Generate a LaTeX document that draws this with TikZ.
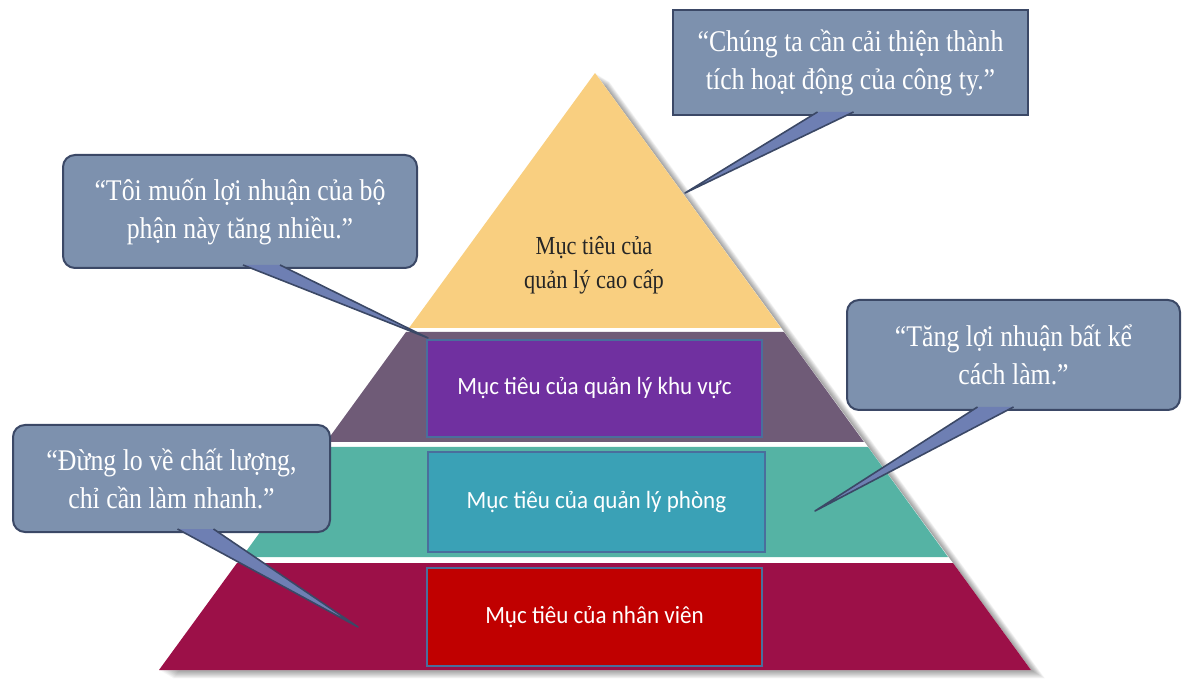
\documentclass[tikz,border=0pt]{standalone}
\usepackage{fontspec}
\setmainfont{Liberation Serif}
\newfontfamily\quotefont[FakeStretch=0.86]{Liberation Serif}
\newfontfamily\boxfont[FakeStretch=0.93]{Carlito}
\definecolor{topyellow}{HTML}{F9CF80}
\definecolor{areamauve}{HTML}{6F5B77}
\definecolor{areapurple}{HTML}{7030A0}
\definecolor{deptteal}{HTML}{55B3A4}
\definecolor{deptbox}{HTML}{3AA1B6}
\definecolor{staffred}{HTML}{9C1048}
\definecolor{staffbox}{HTML}{C00000}
\definecolor{quotefill}{HTML}{7D91AE}
\definecolor{quoteedge}{HTML}{3B4866}
\definecolor{tipfill}{HTML}{6E7FB3}
\definecolor{boxedge}{HTML}{4A6E9C}

\begin{document}
\begin{tikzpicture}[x=0.5pt, y=-0.5pt,
  quote/.style={draw=quoteedge, fill=quotefill, line width=1pt, text=white, align=center, inner sep=0pt, outer sep=0pt, font=\quotefont\fontsize{15}{19}\selectfont},
  roundquote/.style={quote, rounded corners=6pt},
  pointer/.style={fill=tipfill, draw=quoteedge, line width=0.8pt, line join=round},
  goal/.style={draw=boxedge, line width=0.6pt, text=white, inner sep=0pt, font=\boxfont\fontsize{12.4}{14}\selectfont}]
\useasboundingbox (0,0) rectangle (1182,683);
% shadow, then the four levels
\foreach \s in {1,...,14}
  \fill[black, opacity=0.03, shift={(\s,0.6*\s)}] (595,73) -- (1031,670) -- (159,670) -- cycle;
\fill[white] (595,73) -- (1031,670) -- (159,670) -- cycle;
\fill[topyellow] (595,73) -- (781,328) -- (409,328) -- cycle;
\fill[areamauve] (406,332) -- (784,332) -- (864,442) -- (326,442) -- cycle;
\fill[deptteal] (322,447) -- (868,447) -- (948,557) -- (242,557) -- cycle;
\fill[staffred] (237,563) -- (953,563) -- (1031,670) -- (159,670) -- cycle;
\node[text=black!85, align=center, font=\quotefont\fontsize{13}{17}\selectfont] (top) at (594,265) {Mục tiêu của\\quản lý cao cấp};
\node[goal, fill=areapurple, minimum width=167.5pt, minimum height=48.5pt] (area) at (594.5,388.5) {Mục tiêu của quản lý khu vực};
\node[goal, fill=deptbox, minimum width=168.5pt, minimum height=50pt] (dept) at (596.5,502) {Mục tiêu của quản lý phòng};
\node[goal, fill=staffbox, minimum width=167.5pt, minimum height=49pt] (staff) at (594.5,617) {Mục tiêu của nhân viên};
% quotes
\node[quote, minimum width=177.5pt, minimum height=52.5pt] (ceo) at (850.5,62.5) {“Chúng ta cần cải thiện thành\\tích hoạt động của công ty.”};
\node[roundquote, minimum width=177pt, minimum height=56.5pt] (region) at (240,211.5) {“Tôi muốn lợi nhuận của bộ\\phận này tăng nhiều.”};
\node[roundquote, minimum width=166.5pt, minimum height=55pt] (profit) at (1013.5,355) {“Tăng lợi nhuận bất kể\\cách làm.”};
\node[roundquote, minimum width=158.5pt, minimum height=53.5pt] (speed) at (171.5,478.5) {“Đừng lo về chất lượng,\\chỉ cần làm nhanh.”};
\coordinate (ceotip) at (685,193);
\coordinate (regiontip) at (428,338);
\coordinate (profittip) at (815,511);
\coordinate (speedtip) at (358,627);
\filldraw[pointer] ([shift={(-33,-3)}]ceo.south) -- (ceotip) -- ([shift={(3,-3)}]ceo.south);
\filldraw[pointer] ([shift={(3,-3)}]region.south) -- (regiontip) -- ([shift={(40,-3)}]region.south);
\filldraw[pointer] ([shift={(-36,-3)}]profit.south) -- (profittip) -- ([shift={(0,-3)}]profit.south);
\filldraw[pointer] ([shift={(6,-3)}]speed.south) -- (speedtip) -- ([shift={(42,-3)}]speed.south);
\end{tikzpicture}
\end{document}
